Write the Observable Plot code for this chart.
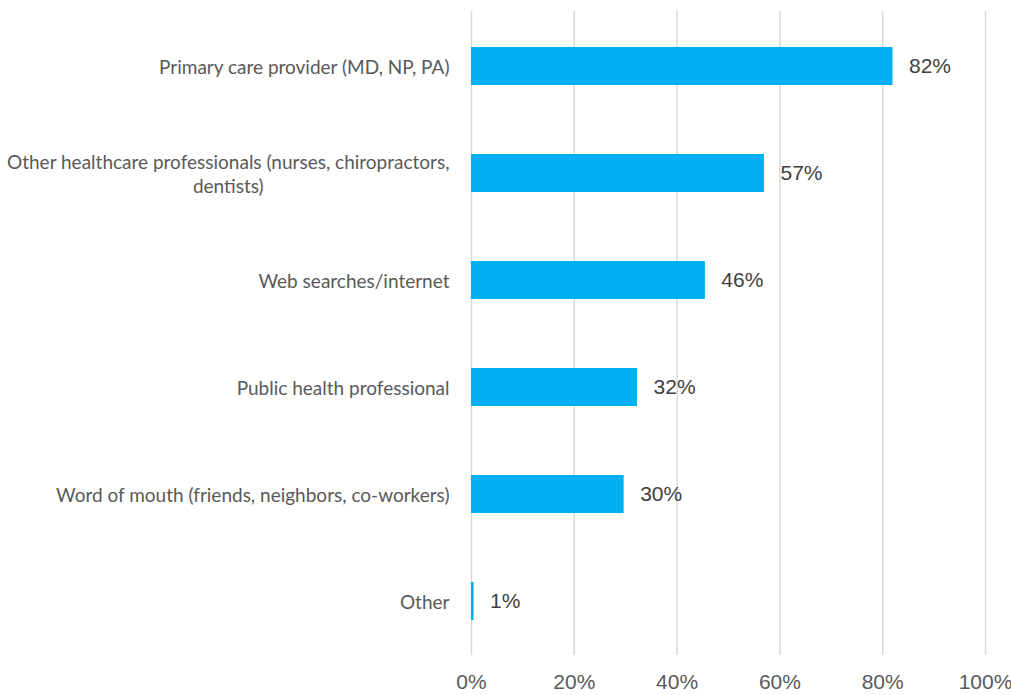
<!DOCTYPE html>
<html>
<head>
<meta charset="utf-8">
<script src="https://cdn.jsdelivr.net/npm/d3@7"></script>
<script src="https://cdn.jsdelivr.net/npm/@observablehq/plot@0.6"></script>
<style>
  html, body { margin: 0; padding: 0; background: #fff; }
  #chart { width: 1011px; height: 695px; }
</style>
</head>
<body>
<div id="chart"></div>
<script>
const categories = [
  "Primary care provider (MD, NP, PA)",
  "Other healthcare professionals (nurses, chiropractors,\ndentists)",
  "Web searches/internet",
  "Public health professional",
  "Word of mouth (friends, neighbors, co-workers)",
  "Other"
];
const values = [0.82, 0.57, 0.455, 0.323, 0.297, 0.005];
const valueLabels = ["82%", "57%", "46%", "32%", "30%", "1%"];
const xTicks = [0, 0.2, 0.4, 0.6, 0.8, 1.0];

const data = categories.map((c, i) => ({category: c, value: values[i], label: valueLabels[i]}));

const chart = Plot.plot({
  width: 1011,
  height: 695,
  marginLeft: 471,
  marginRight: 26,
  marginTop: 11,
  marginBottom: 40,
  style: {background: "#fff"},
  x: {domain: [0, 1], ticks: xTicks, tickFormat: d => Math.round(d * 100) + "%"},
  y: {domain: categories, paddingInner: 0.647, paddingOuter: 0.31},
  marks: [
    Plot.gridX(xTicks, {stroke: "#d9d9d9", strokeOpacity: 1, strokeWidth: 1.5}),
    Plot.barX(data, {y: "category", x: "value", fill: "#00B0F0"}),
    Plot.text(data, {y: "category", x: "value", text: "label", textAnchor: "start", dx: 16,
      fill: "#404040", fontSize: 21, fontFamily: "Liberation Sans, Arial, sans-serif"}),
    Plot.axisX({ticks: xTicks, tickSize: 0, tickPadding: 19, tickFormat: d => Math.round(d * 100) + "%",
      fontSize: 21, fill: "#595959", fontFamily: "Liberation Sans, Arial, sans-serif", label: null}),
    Plot.axisY({tickSize: 0, tickPadding: 22, fontSize: 19, fill: "#595959",
      fontFamily: "Lato, sans-serif", label: null, lineHeight: 1.25})
  ]
});
document.getElementById("chart").appendChild(chart);

// Center multi-line category labels within their block (as in the original)
chart.querySelectorAll("[aria-label='y-axis tick label'] text").forEach(t => {
  const spans = t.querySelectorAll("tspan");
  if (spans.length > 1) {
    const widths = Array.from(spans, s => s.getComputedTextLength());
    const maxW = Math.max(...widths);
    t.setAttribute("text-anchor", "middle");
    spans.forEach(s => s.setAttribute("x", -maxW / 2));
  }
});
</script>
</body>
</html>
